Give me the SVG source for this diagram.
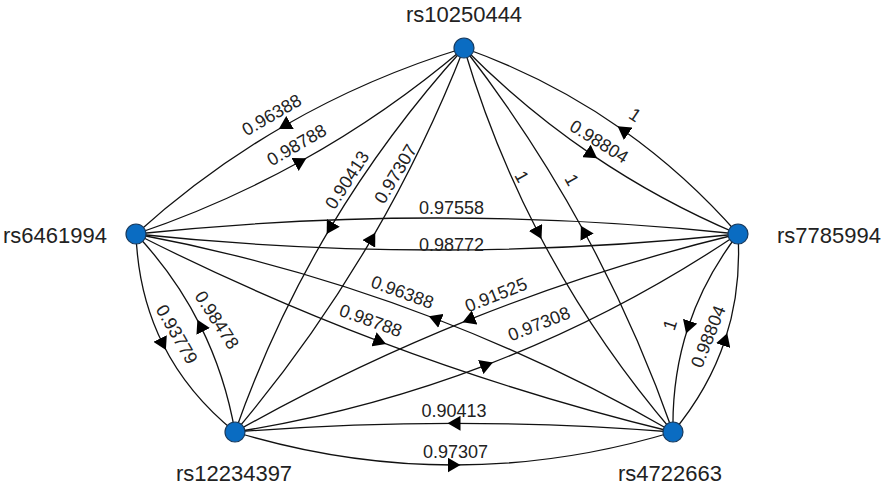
<svg xmlns="http://www.w3.org/2000/svg" width="886" height="497" viewBox="0 0 886 497">
<style>
.e{fill:none;stroke:#111;stroke-width:1.3}
.a{marker-mid:url(#arr)}
.lb{font-family:"Liberation Sans",Arial,sans-serif;font-size:18px;fill:#222;text-anchor:middle}
.nl{font-family:"Liberation Sans",Arial,sans-serif;font-size:22px;fill:#222}
.nd{fill:#0A6CC2;stroke:#173A5E;stroke-width:1.2}
</style>
<defs>
<marker id="arr" viewBox="0 0 13 15" markerWidth="13" markerHeight="15" refX="6.5" refY="7.5" orient="auto" markerUnits="userSpaceOnUse">
<path d="M0,0 L13,7.5 L0,15 Z" fill="#000"/>
</marker>
</defs>
<rect width="886" height="497" fill="#fff"/>
<g id="connectors">
<path class="e a" d="M464,48 Q368.7,77.2 284.4,125.7 Q205.4,171.3 136,234"/>
<path class="e a" d="M136,234 Q222.4,204.7 300.7,161.3 Q387.3,113.3 464,48"/>
<path class="e a" d="M464,48 Q387.3,132.4 330,228.4 Q272.8,324.4 235,432"/>
<path class="e a" d="M235,432 Q312.4,340.5 372,238.3 Q425,147.4 464,48"/>
<path class="e a" d="M464,48 Q492.8,145.2 538.5,233.2 Q593.6,339.3 673,432"/>
<path class="e a" d="M673,432 Q636.3,327.5 584,231.5 Q531.8,135.5 464,48"/>
<path class="e a" d="M738,234 Q685.7,174.4 622.9,130 Q550.4,78.8 464,48"/>
<path class="e a" d="M464,48 Q523.3,108.1 591.8,154.6 Q660.3,201.1 738,234"/>
<path class="e" d="M136,234 Q437,202 738,234"/>
<path class="e" d="M136,234 Q437,266 738,234"/>
<path class="e a" d="M136,234 Q138.2,294.8 163,344.3 Q187.7,393.8 235,432"/>
<path class="e a" d="M235,432 Q225.1,375.1 200.3,325.6 Q175.6,276.1 136,234"/>
<path class="e a" d="M673,432 Q557.5,365.6 434.9,318.5 Q290.4,262.9 136,234"/>
<path class="e a" d="M136,234 Q255.5,294.5 380,341.6 Q523.2,395.7 673,432"/>
<path class="e a" d="M738,234 Q599.5,267.4 468.6,319.9 Q348.6,368 235,432"/>
<path class="e a" d="M235,432 Q365.9,411.1 486.8,364.8 Q618.3,314.5 738,234"/>
<path class="e a" d="M738,234 Q704.4,277.8 688.1,327.3 Q671.9,376.8 673,432"/>
<path class="e a" d="M673,432 Q708.9,389 725.2,339.5 Q741.4,290 738,234"/>
<path class="e a" d="M673,432 Q563.5,423.3 454,423.3 Q344.5,423.3 235,432"/>
<path class="e a" d="M235,432 Q344.5,465 454,465 Q563.5,465 673,432"/>
</g>
<g id="edge-labels">
<text class="lb" transform="translate(271.7,115) rotate(-30)" y="6">0.96388</text>
<text class="lb" transform="translate(296.7,145) rotate(-30)" y="6">0.98788</text>
<text class="lb" transform="translate(347.3,180) rotate(-57)" y="6">0.90413</text>
<text class="lb" transform="translate(395.7,174) rotate(-59)" y="6">0.97307</text>
<text class="lb" transform="translate(451.5,208)" y="6">0.97558</text>
<text class="lb" transform="translate(451.5,244.5)" y="6">0.98772</text>
<text class="lb" transform="translate(402.3,292.3) rotate(20)" y="6">0.96388</text>
<text class="lb" transform="translate(370.7,320.7) rotate(20)" y="6">0.98788</text>
<text class="lb" transform="translate(496,295) rotate(-21.5)" y="6">0.91525</text>
<text class="lb" transform="translate(539,324) rotate(-21.5)" y="6">0.97308</text>
<text class="lb" transform="translate(521.7,176.7) rotate(61)" y="6">1</text>
<text class="lb" transform="translate(571.7,180) rotate(61)" y="6">1</text>
<text class="lb" transform="translate(599,141.7) rotate(32)" y="6">0.98804</text>
<text class="lb" transform="translate(635,115) rotate(34)" y="6">1</text>
<text class="lb" transform="translate(670,325) rotate(-72)" y="6">1</text>
<text class="lb" transform="translate(708.3,336.7) rotate(-68)" y="6">0.98804</text>
<text class="lb" transform="translate(176.7,334.3) rotate(60)" y="6">0.93779</text>
<text class="lb" transform="translate(216.7,320) rotate(57)" y="6">0.98478</text>
<text class="lb" transform="translate(454,410.5)" y="6">0.90413</text>
<text class="lb" transform="translate(455.5,451.5)" y="6">0.97307</text>
</g>
<g id="rs10250444"><circle class="nd" cx="464" cy="48" r="10"/><text class="nl" x="464" y="22" text-anchor="middle">rs10250444</text></g>
<g id="rs6461994"><circle class="nd" cx="136" cy="234" r="10"/><text class="nl" x="107" y="243" text-anchor="end">rs6461994</text></g>
<g id="rs7785994"><circle class="nd" cx="738" cy="234" r="10"/><text class="nl" x="777" y="243">rs7785994</text></g>
<g id="rs12234397"><circle class="nd" cx="235" cy="432" r="10"/><text class="nl" x="234" y="481" text-anchor="middle">rs12234397</text></g>
<g id="rs4722663"><circle class="nd" cx="673" cy="432" r="10"/><text class="nl" x="670" y="481" text-anchor="middle">rs4722663</text></g>
</svg>
